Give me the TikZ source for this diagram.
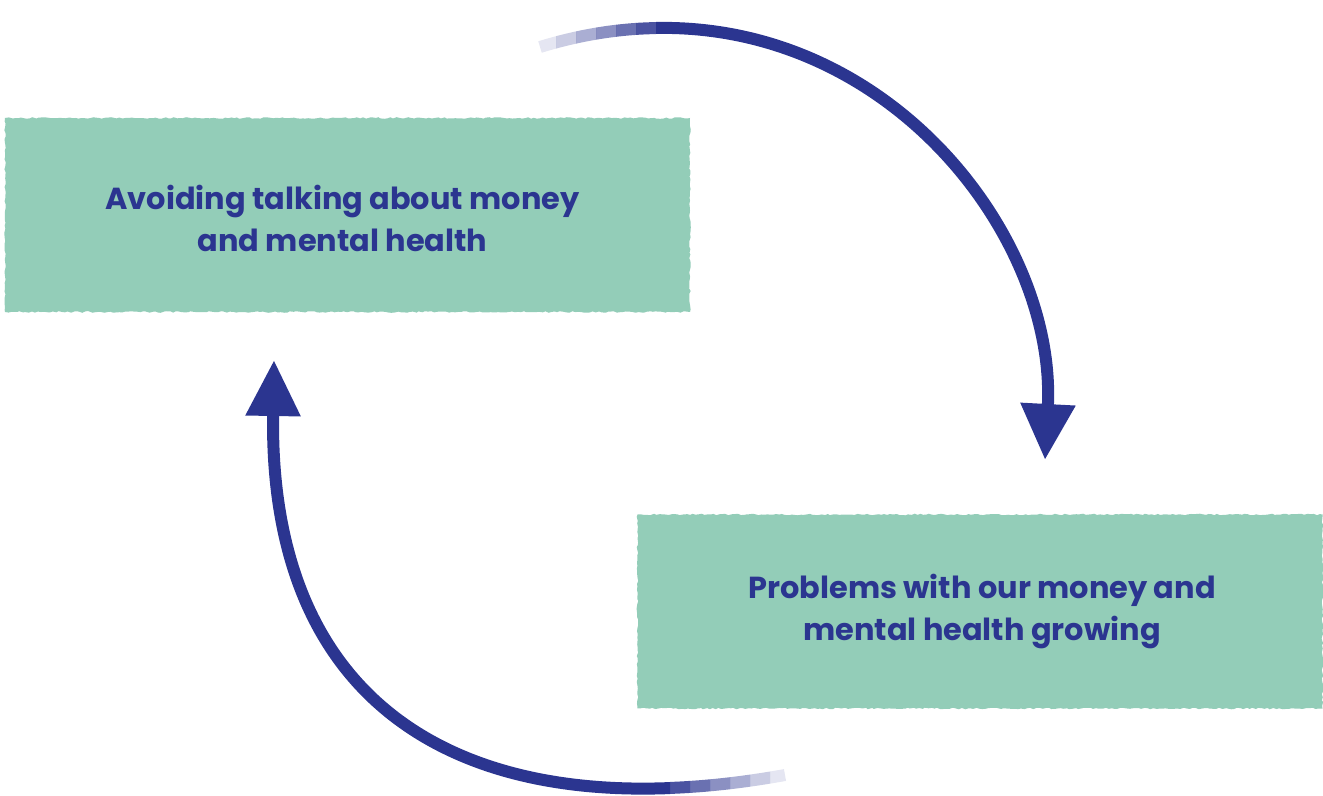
\documentclass[tikz,border=0pt]{standalone}
\usepackage{fontspec}
\setmainfont{Poppins}
\usepackage{tikz}
\usetikzlibrary{calc}
\usetikzlibrary{positioning}
\usetikzlibrary{arrows.meta}
\usetikzlibrary{decorations.pathmorphing}
\definecolor{boxgreen}{RGB}{147,205,184}
\definecolor{inkblue}{RGB}{43,53,144}
\newcommand{\toparcpath}{(topstart) .. controls (840,-45) and (1058,215) .. (toptip)}
\newcommand{\botarcpath}{(botstart) .. controls (480,830) and (268,720) .. (bottip)}

\begin{document}
\begin{tikzpicture}[x=0.5pt,y=-0.5pt,
    every node/.style = {align=center},
    torn/.style = {fill=boxgreen, inner sep=0pt, decorate,
        decoration={random steps, segment length=1.5pt, amplitude=0.4pt}},
    stateA/.style = {torn, minimum width=342.5pt, minimum height=97pt},
    label/.style = {text=inkblue, font=\fontsize{15.2}{21}\selectfont\bfseries},
    brush/.style = {draw=inkblue, line width=6pt},
    loop/.style = {brush, -{Triangle[length=28pt,width=26pt]}}]
\useasboundingbox (0,0) rectangle (1323,796);
\node[stateA] (avoid) at (347.5,215) {};
\node[stateA] (problems) at (980,611.5) {};
\node[label] (avoidtxt) at ($(avoid)+(-5,3)$) {Avoiding talking about money\\and mental health};
\node[label] (problemstxt) at ($(problems)+(2,0)$) {Problems with our money and\\mental health growing};
\coordinate (topstart) at (540,47);
\coordinate (toptip) at (1045,460);
\coordinate (botstart) at (785,775);
\coordinate (bottip) at (274,360);
% faint dry-brush start of each arrow
\foreach \k/\op in {0/0.12,1/0.25,2/0.4,3/0.55,4/0.7,5/0.85} {
  \begin{scope}
    \clip (536+20*\k,-20) rectangle (556+20*\k,150);
    \draw [brush, opacity=\op] \toparcpath;
  \end{scope}
  \begin{scope}
    \clip (790-20*\k,650) rectangle (770-20*\k,820);
    \draw [brush, opacity=\op] \botarcpath;
  \end{scope}
}
\begin{scope}
  \clip (656,-20) rectangle (1323,796);
  \draw [loop] \toparcpath;
\end{scope}
\begin{scope}
  \clip (670,820) rectangle (0,0);
  \draw [loop] \botarcpath;
\end{scope}
\end{tikzpicture}
\end{document}
